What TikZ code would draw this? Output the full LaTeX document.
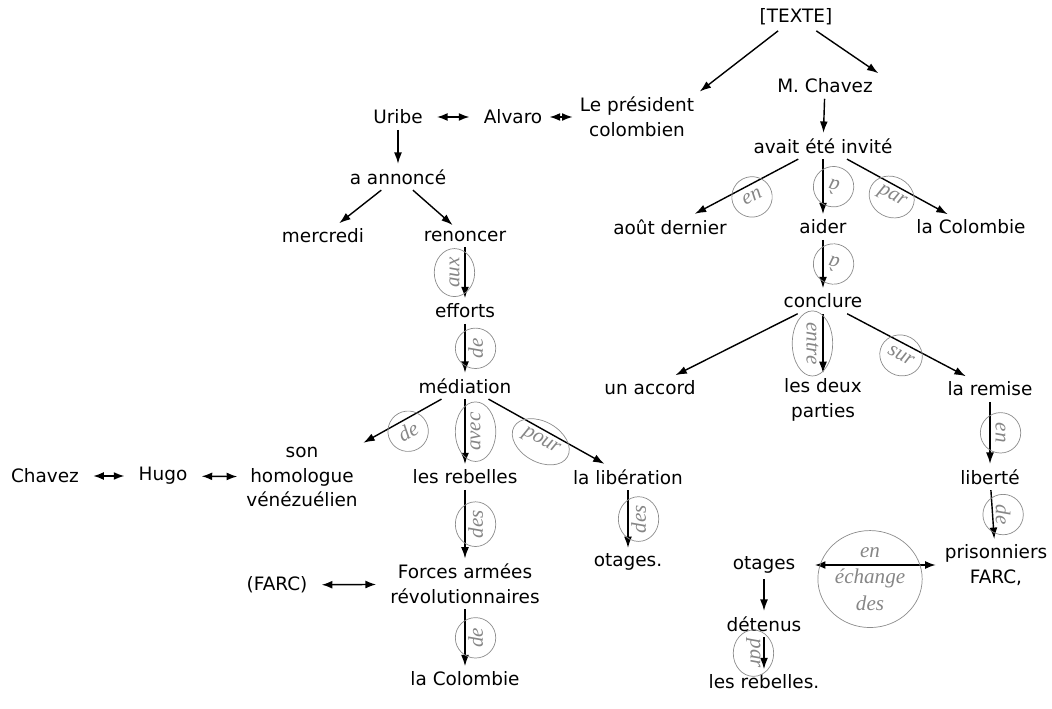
\documentclass[tikz,border=0pt]{standalone}
\usepackage{fontspec}
\setmainfont{DejaVu Sans}
\newfontfamily\prepfont{Liberation Serif}
\usetikzlibrary{arrows.meta,shapes.geometric}

\begin{document}
\begin{tikzpicture}[x=0.02cm, y=-0.02cm,
    word/.style={align=center, inner sep=3pt, font=\fontsize{10.5}{14}\selectfont},
    arr/.style={-{Latex[length=6.5pt,width=4.5pt]}, line width=0.8pt},
    both/.style={{Latex[length=6pt,width=4.5pt]}-{Latex[length=6pt,width=4.5pt]}, line width=0.8pt, shorten <=5pt, shorten >=5pt},
    prep/.style={ellipse, draw=gray!90, line width=0.4pt, text=gray!95, inner sep=1pt,
      minimum width=23pt, minimum height=23pt, align=center,
      font=\prepfont\itshape\fontsize{12}{15}\selectfont},
    % vertical labels, text to the right / left of the line
    prepR/.style={prep, xshift=6pt, rotate=#1},
    prepL/.style={prep, xshift=-6pt, rotate=#1},
    % slanted labels, text under the line
    prepS/.style={prep, sloped, below=-5pt}]
  \useasboundingbox (0,0) rectangle (1052,709);

  % left tree
  \node[word] (texte) at (796,17) {[TEXTE]};
  \node[word] (president) at (637,117) {Le président\\colombien};
  \node[word] (alvaro) at (513,117) {Alvaro};
  \node[word] (uribe) at (398,117) {Uribe};
  \node[word] (annonce) at (398,177) {a annoncé};
  \node[word] (mercredi) at (323,236) {mercredi};
  \node[word] (renoncer) at (465,236) {renoncer};
  \node[word] (efforts) at (465,311) {efforts};
  \node[word] (mediation) at (465,386) {médiation};
  \node[word] (homologue) at (302,477) {son\\homologue\\vénézuélien};
  \node[word] (hugo) at (163,476) {Hugo};
  \node[word] (chavez) at (45,476) {Chavez};
  \node[word] (rebelles) at (465,477) {les rebelles};
  \node[word] (liberation) at (628,477) {la libération};
  \node[word] (otagesL) at (628,562) {otages.};
  \node[word] (forces) at (465,584) {Forces armées\\révolutionnaires};
  \node[word] (farc) at (277,585) {(FARC)};
  \node[word] (colombieL) at (465,679) {la Colombie};

  % right tree
  \node[word] (chavezM) at (825,86) {M. Chavez};
  \node[word] (invite) at (823,146) {avait été invité};
  \node[word] (aout) at (670,227) {août dernier};
  \node[word] (aider) at (823,227) {aider};
  \node[word] (colombieR) at (971,227) {la Colombie};
  \node[word] (conclure) at (823,301) {conclure};
  \node[word] (accord) at (650,388) {un accord};
  \node[word] (parties) at (823,400) {les deux\\parties};
  \node[word] (remise) at (990,389) {la remise};
  \node[word] (liberte) at (990,477) {liberté};
  \node[word] (prisonniers) at (996,565) {prisonniers\\FARC,};
  \node[word] (otagesR) at (764,565) {otages};
  \node[word] (detenus) at (764,624) {détenus};
  \node[word] (rebellesR) at (764,682) {les rebelles.};

  % connectors, left
  \draw[arr] (texte) -- (president.north east);
  \draw[arr] (texte) -- (chavezM.north east);
  \draw[both] (uribe) -- (alvaro);
  \draw[both, shorten <=1pt, shorten >=1pt] (alvaro) -- (president);
  \draw[arr] (uribe) -- (annonce);
  \draw[arr] (annonce) -- (mercredi);
  \draw[arr] (annonce) -- (renoncer);
  \draw[arr] (renoncer) -- node[prepL=90] {aux} (efforts);
  \draw[arr] (efforts) -- node[prepR=90] {de} (mediation);
  \draw[arr] (mediation) -- node[prepS] {de} (homologue);
  \draw[arr] (mediation) -- node[prepR=90] {avec} (rebelles);
  \draw[arr] (mediation) -- node[prepS] {pour} (liberation);
  \draw[both] (chavez) -- (hugo);
  \draw[both, shorten >=2pt] (hugo) -- (homologue);
  \draw[arr] (rebelles) -- node[prepR=90] {des} (forces);
  \draw[arr] (liberation) -- node[prepR=90] {des} (otagesL);
  \draw[both] (farc) -- (forces);
  \draw[arr] (forces) -- node[prepR=90] {de} (colombieL);

  % connectors, right
  \draw[arr] (chavezM) -- (invite);
  \draw[arr] (invite) -- node[prepS] {en} (aout);
  \draw[arr] (invite) -- node[prepR=165] {à} (aider);
  \draw[arr] (invite) -- node[prepS] {par} (colombieR);
  \draw[arr] (aider) -- node[prepR=165] {à} (conclure);
  \draw[arr] (conclure) -- (accord);
  \draw[arr] (conclure) -- node[prepL=-90] {entre} (parties);
  \draw[arr] (conclure) -- node[prepS] {sur} (remise);
  \draw[arr] (remise) -- node[prepR=-90] {en} (liberte);
  \draw[arr] (liberte) -- node[prepR=-90] {de} (prisonniers);
  \draw[both, shorten <=8pt, shorten >=2pt] (otagesR) -- node[prep, yshift=-8pt, minimum width=1.86cm, minimum height=1.94cm] {en\\échange\\des} (prisonniers);
  \draw[arr] (otagesR) -- (detenus);
  \draw[arr] (detenus) -- node[prepL=-90] {par} (rebellesR);
\end{tikzpicture}
\end{document}
